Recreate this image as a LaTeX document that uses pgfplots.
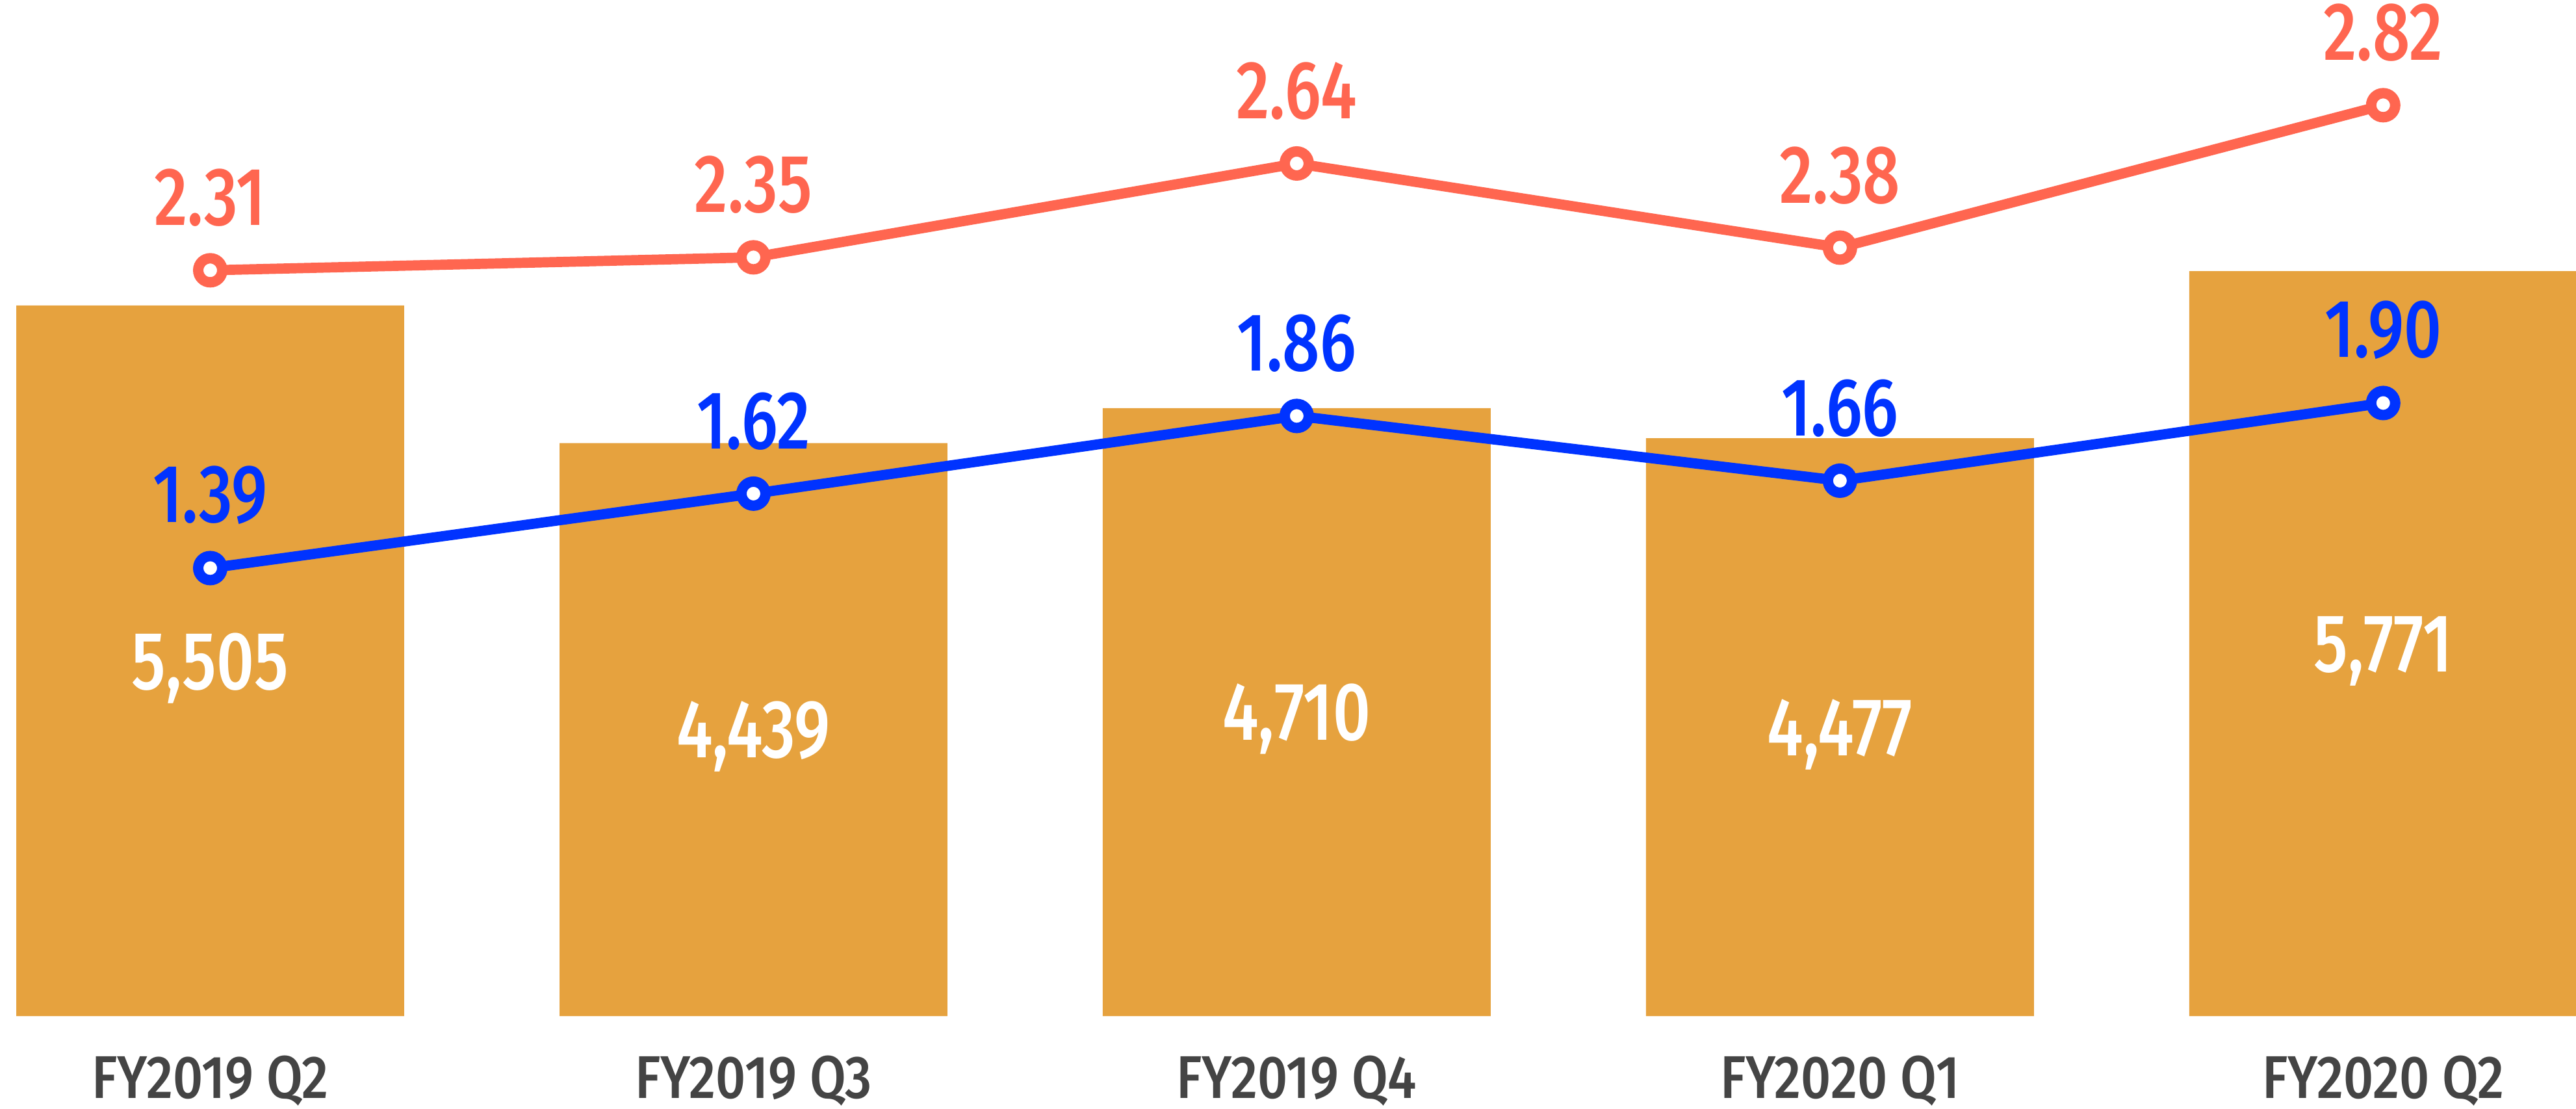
\documentclass[border=0pt]{standalone}
\usepackage{pgfplots}
\pgfplotsset{compat=1.18}
\usepackage{fontspec}
\setmainfont{Fira Sans}[FakeStretch=0.8, BoldFont=* Medium]
\newfontfamily\tickfont{Fira Sans}[FakeStretch=0.87, UprightFont=* Medium]
\definecolor{barorange}{RGB}{230,162,62}
\definecolor{netred}{RGB}{255,102,80}
\definecolor{epsblue}{RGB}{0,51,255}
\definecolor{labelgrey}{RGB}{68,68,68}

\begin{document}
\begin{tikzpicture}
\tikzset{valfont/.style={font=\fontsize{18}{20}\selectfont\bfseries}}
\pgfplotsset{
  base/.style={
    scale only axis, width=19.82cm, height=7.815cm,
    xmin=-0.387, xmax=4.355, clip=false,
    /pgf/number format/assume math mode=true,
  },
  linestyle/.style={
    #1, line width=0.0785cm, mark=*, mark size=2.63pt,
    mark options={fill=white, draw=#1, line width=0.08cm},
    nodes near coords={\pgfmathprintnumber[fixed, fixed zerofill, precision=2, assume math mode=true]{\pgfplotspointmeta}},
    every node near coord/.append style={valfont, text=#1, anchor=south, inner sep=0pt, yshift=0.295cm},
  },
}
% bars: left scale
\begin{axis}[base,
  ymin=0, ymax=7872,
  axis x line*=bottom, axis y line=none,
  x axis line style={draw=none},
  xtick={0,...,4}, major tick length=0pt,
  xticklabels={FY2019 Q2,FY2019 Q3,FY2019 Q4,FY2020 Q1,FY2020 Q2},
  xticklabel style={font=\fontsize{13.2}{15}\selectfont\tickfont, text=labelgrey,
    anchor=north, inner sep=0pt, yshift=-0.3cm},
]
\addplot[ybar, fill=barorange, draw=none, bar width=0.714]
  coordinates {(0,5505) (1,4439) (2,4710) (3,4477) (4,5771)};
\node[valfont, text=white, anchor=base, yshift=-0.2175cm] at (axis cs:0,2752.5) {5,505};
\node[valfont, text=white, anchor=base, yshift=-0.2175cm] at (axis cs:1,2219.5) {4,439};
\node[valfont, text=white, anchor=base, yshift=-0.2175cm] at (axis cs:2,2355) {4,710};
\node[valfont, text=white, anchor=base, yshift=-0.2175cm] at (axis cs:3,2238.5) {4,477};
\node[valfont, text=white, anchor=base, yshift=-0.2175cm] at (axis cs:4,2885.5) {5,771};
\coordinate (sw) at (rel axis cs:0,0);
\coordinate (ne) at (rel axis cs:1,1);
\end{axis}
% lines: right scale
\begin{axis}[base, ymin=0.006, ymax=3.145, hide axis]
\addplot[linestyle=netred]
  coordinates {(0,2.31) (1,2.35) (2,2.64) (3,2.38) (4,2.82)};
\addplot[linestyle=epsblue]
  coordinates {(0,1.39) (1,1.62) (2,1.86) (3,1.66) (4,1.90)};
\end{axis}
\pgfresetboundingbox
\path ([yshift=-0.71cm]sw) rectangle (ne);
\end{tikzpicture}
\end{document}
